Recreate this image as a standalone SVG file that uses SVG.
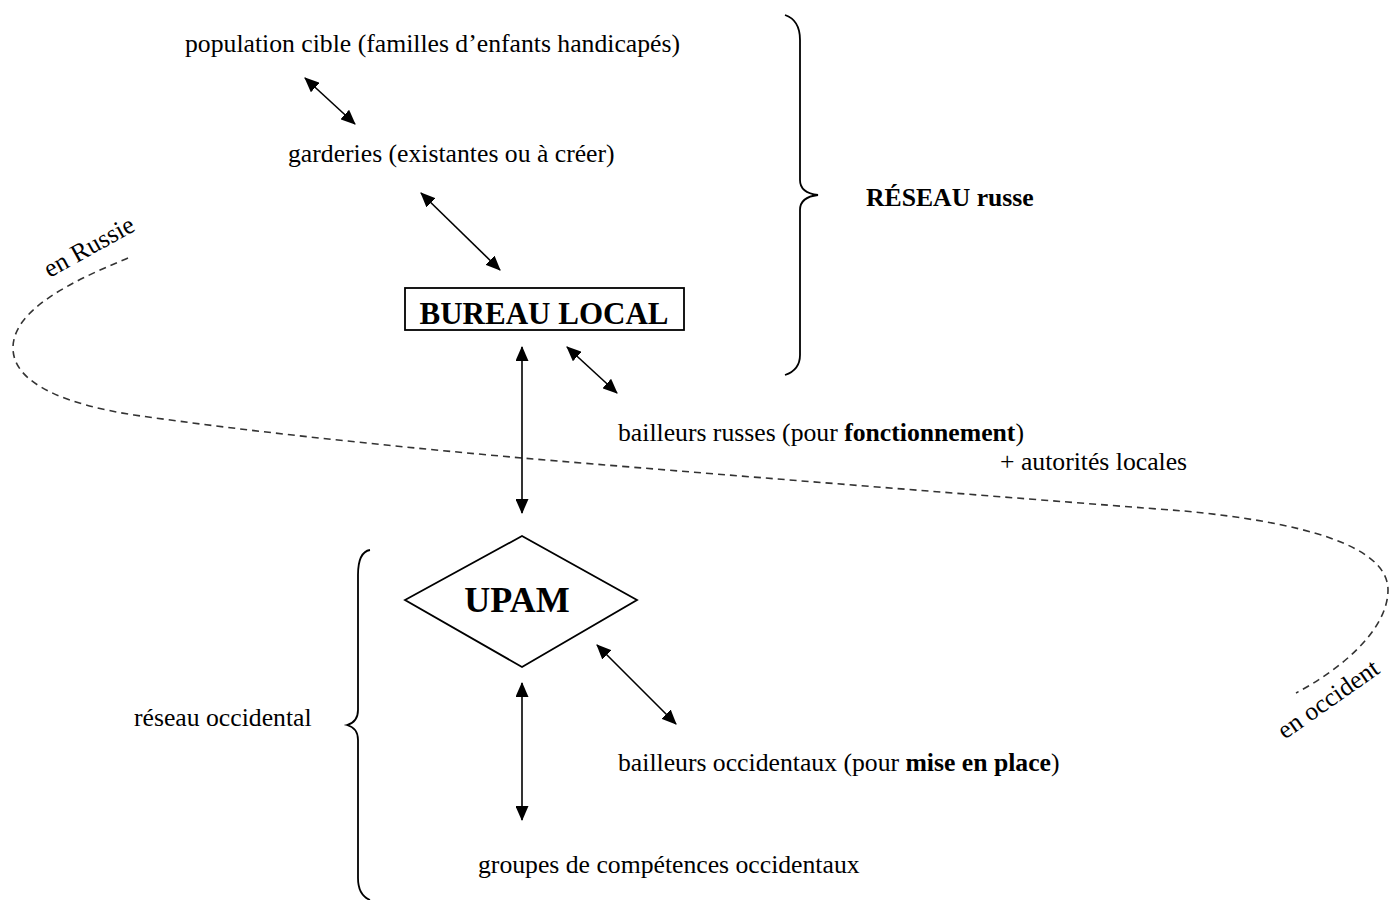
<svg xmlns="http://www.w3.org/2000/svg" width="1390" height="900" viewBox="0 0 1390 900">
<defs>
<marker id="ah" viewBox="0 0 15 13" refX="14" refY="6.5" markerWidth="15" markerHeight="13" markerUnits="userSpaceOnUse" orient="auto-start-reverse">
<path d="M0,0 L15,6.5 L0,13 Z" fill="#000"/>
</marker>
</defs>
<style>
.t{font-family:"Liberation Serif","Times New Roman",serif;font-size:25.7px;fill:#000}
.b{font-weight:bold}
.c{stroke:#000;stroke-width:1.6;fill:none;marker-start:url(#ah);marker-end:url(#ah)}
.br{stroke:#000;stroke-width:1.8;fill:none}
.d{stroke:#333;stroke-width:1.6;fill:none;stroke-dasharray:7,5}
</style>
<rect width="1390" height="900" fill="#fff"/>
<g id="population"><text class="t" x="185" y="52">population cible (familles d’enfants handicapés)</text></g>
<g id="garderies"><text class="t" x="288" y="162">garderies (existantes ou à créer)</text></g>
<g id="bureau">
<rect x="405" y="288" width="279" height="42" fill="#fff" stroke="#000" stroke-width="1.8"/>
<text class="t b" x="544" y="324" text-anchor="middle" style="font-size:31px">BUREAU LOCAL</text>
</g>
<g id="reseau-russe"><text class="t b" x="866" y="206">RÉSEAU russe</text></g>
<g id="bailleurs-russes">
<text class="t" x="618" y="441">bailleurs russes (pour <tspan class="b">fonctionnement</tspan>)</text>
<text class="t" x="1000" y="470">+ autorités locales</text>
</g>
<g id="upam">
<polygon points="405,600 522,536 637,600 522,667" fill="#fff" stroke="#000" stroke-width="1.8"/>
<text class="t b" x="517" y="612" text-anchor="middle" style="font-size:36px">UPAM</text>
</g>
<g id="reseau-occidental"><text class="t" x="134" y="726">réseau occidental</text></g>
<g id="bailleurs-occidentaux"><text class="t" x="618" y="771">bailleurs occidentaux (pour <tspan class="b">mise en place</tspan>)</text></g>
<g id="groupes"><text class="t" x="478" y="873">groupes de compétences occidentaux</text></g>
<g id="braces">
<path class="br" d="M785,15 Q800,20 800,40 L800,180 Q800,193 818,195 Q800,197 800,210 L800,355 Q800,370 785,375"/>
<path class="br" d="M370,550 Q358,552 358,575 L358,710 Q358,722 347,725 Q358,728 358,740 L358,878 Q358,895 370,900"/>
</g>
<g id="divider">
<path class="d" d="M128,258 C70,282 13,310 13,348 C13,385 70,405 134,415 C260,433 400,447 522,458 C700,473 1000,497 1184,511 C1300,522 1388,545 1388,590 C1388,630 1340,670 1296,693"/>
<text class="t" transform="translate(93,254) rotate(-29)" text-anchor="middle">en Russie</text>
<text class="t" transform="translate(1333,706) rotate(-35)" text-anchor="middle">en occident</text>
</g>
<g id="connectors">
<line class="c" x1="305" y1="78" x2="355" y2="124"/>
<line class="c" x1="421" y1="193" x2="500" y2="270"/>
<line class="c" x1="522" y1="347" x2="522" y2="513"/>
<line class="c" x1="567" y1="347" x2="617" y2="393"/>
<line class="c" x1="522" y1="683" x2="522" y2="820"/>
<line class="c" x1="597" y1="645" x2="676" y2="724"/>
</g>
</svg>
